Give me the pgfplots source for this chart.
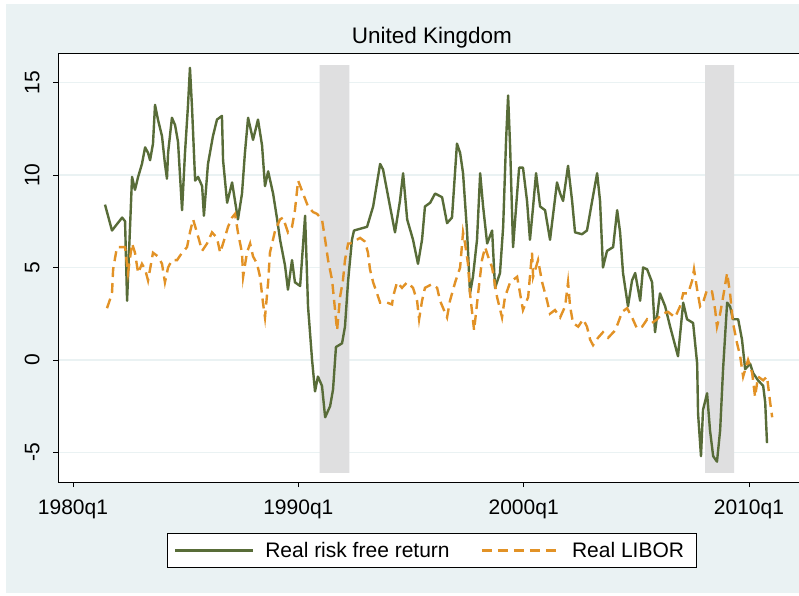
\documentclass[border=0pt]{standalone}
\usepackage{pgfplots}
\pgfplotsset{compat=1.18}
\usepackage{fontspec}
\setmainfont{Liberation Sans}

\definecolor{regionbg}{RGB}{234,242,243}
\definecolor{recession}{RGB}{223,223,224}
\definecolor{rfgreen}{RGB}{88,108,56}
\definecolor{liborange}{RGB}{226,146,38}

\begin{document}
\begin{tikzpicture}[font=\fontsize{21}{25}\selectfont]
\useasboundingbox (0pt,0pt) rectangle (799pt,595pt);
% graph region
\fill[regionbg] (6pt,2pt) rectangle (799pt,591pt);
\begin{axis}[
  at={(58pt,113pt)}, anchor=south west,
  scale only axis, width=741pt, height=429pt,
  xmin=1979.334, xmax=2012.22, ymin=-6.6, ymax=16.6,
  axis x line*=box, axis y line*=left,
  tick pos=left, tick align=outside, major tick length=5pt,
  xtick={1980,1990,2000,2010},
  xticklabels={1980q1,1990q1,2000q1,2010q1},
  xticklabel shift=9pt,
  ytick={-5,0,5,10,15},
  yticklabels={-5,0,5,10,15},
  yticklabel style={rotate=90, anchor=south},
  yticklabel shift=10pt,
  ymajorgrids,
  grid style={regionbg, line width=1.3pt},
  axis line style={black, line width=0.9pt},
  tick style={black, line width=0.8pt},
  axis background/.style={fill=white},
  title={United Kingdom},
  title style={at={(0.5047,1)}, anchor=base, yshift=3pt,
    font=\fontsize{22.5}{26}\selectfont},
  legend columns=2,
  legend style={at={(0.5047,-0.1597)}, anchor=center, draw=black,
    line width=0.8pt, fill=white, inner xsep=6pt, inner ysep=6pt,
    nodes={inner xsep=6pt, inner ysep=3pt},
    /tikz/every odd column/.append style={column sep=5pt},
    /tikz/every even column/.append style={column sep=25pt}},
  legend image code/.code={\draw[#1] (0pt,0pt) -- (78pt,0pt);},
]
% recession bands
\addplot[fill=recession, draw=none, forget plot] coordinates {
  (1990.94,-6.1) (1992.27,-6.1) (1992.27,15.95) (1990.94,15.95)} \closedcycle;
\addplot[fill=recession, draw=none, forget plot] coordinates {
  (2008.05,-6.1) (2009.34,-6.1) (2009.34,15.95) (2008.05,15.95)} \closedcycle;

% real risk free return
\addplot[rfgreen, line width=2.4pt, line join=round] coordinates {
(1981.42,8.4) (1981.73,7.0) (1982.18,7.7) (1982.31,7.5) (1982.40,3.2)
(1982.62,9.9) (1982.75,9.2) (1982.89,9.9) (1983.06,10.6) (1983.20,11.5)
(1983.33,11.2) (1983.42,10.8) (1983.55,11.7) (1983.64,13.8) (1983.77,13.0)
(1983.95,12.1) (1984.08,10.6) (1984.17,9.8) (1984.22,11.2) (1984.39,13.1)
(1984.53,12.7) (1984.66,11.8) (1984.84,8.1) (1984.97,11.2) (1985.10,13.7)
(1985.19,15.8) (1985.28,13.7) (1985.42,9.7) (1985.55,9.9) (1985.73,9.4)
(1985.81,7.8) (1985.99,10.6) (1986.21,12.1) (1986.39,13.0) (1986.61,13.2)
(1986.66,10.8) (1986.84,8.5) (1987.06,9.6) (1987.19,8.6) (1987.32,7.6)
(1987.50,9.0) (1987.63,11.2) (1987.77,13.1) (1987.99,11.9) (1988.21,13.0)
(1988.39,11.6) (1988.52,9.4) (1988.66,10.2) (1988.88,9.0) (1989.06,7.6)
(1989.19,6.5) (1989.41,5.1) (1989.54,3.8) (1989.72,5.4) (1989.85,4.2)
(1990.08,4.0) (1990.30,7.8) (1990.43,2.9) (1990.61,0.0) (1990.74,-1.7)
(1990.87,-0.9) (1991.05,-1.4) (1991.19,-3.1) (1991.41,-2.5) (1991.54,-1.6)
(1991.67,0.7) (1991.94,0.9) (1992.07,1.8) (1992.21,4.3) (1992.38,6.5)
(1992.47,7.0) (1993.05,7.2) (1993.32,8.3) (1993.63,10.6) (1993.76,10.3)
(1994.07,8.3) (1994.29,6.9) (1994.51,8.6) (1994.65,10.1) (1994.83,7.6)
(1995.09,6.5) (1995.31,5.2) (1995.49,6.5) (1995.62,8.3) (1995.85,8.5)
(1996.07,9.0) (1996.38,8.8) (1996.60,7.4) (1996.82,7.7) (1997.04,11.7)
(1997.18,11.2) (1997.31,10.1) (1997.49,6.9) (1997.62,3.6) (1997.75,4.5)
(1997.93,6.5) (1998.07,10.1) (1998.20,8.3) (1998.38,6.3) (1998.60,7.0)
(1998.73,3.9) (1998.95,4.7) (1999.09,7.2) (1999.22,11.9) (1999.31,14.3)
(1999.40,11.5) (1999.53,6.1) (1999.71,9.0) (1999.80,10.4) (1999.97,10.4)
(2000.15,8.6) (2000.28,6.5) (2000.42,8.3) (2000.55,10.1) (2000.73,8.3)
(2000.95,8.1) (2001.17,6.5) (2001.31,7.9) (2001.48,9.6) (2001.62,9.0)
(2001.75,8.6) (2001.97,10.5) (2002.15,8.6) (2002.28,6.9) (2002.59,6.8)
(2002.81,7.0) (2003.04,8.6) (2003.26,10.1) (2003.39,8.6) (2003.52,5.0)
(2003.70,5.9) (2003.97,6.1) (2004.15,8.1) (2004.28,6.9) (2004.41,4.7)
(2004.63,2.9) (2004.81,4.3) (2004.95,4.7) (2005.17,3.2) (2005.30,5.0)
(2005.48,4.9) (2005.70,4.2) (2005.83,1.5) (2006.05,3.6) (2006.28,2.9)
(2006.50,1.8) (2006.85,0.2) (2007.08,3.1) (2007.25,2.2) (2007.52,2.0)
(2007.70,-0.2) (2007.74,-2.9) (2007.87,-5.2) (2007.96,-2.7) (2008.14,-1.8)
(2008.27,-3.8) (2008.41,-5.2) (2008.58,-5.5) (2008.72,-3.8) (2008.85,-0.5)
(2009.03,3.1) (2009.16,2.9) (2009.29,2.2) (2009.52,2.2) (2009.69,1.1)
(2009.83,-0.5) (2010.05,-0.2) (2010.18,-0.7) (2010.40,-1.1) (2010.63,-1.4)
(2010.72,-2.3) (2010.80,-4.5)
};
\addlegendentry{Real risk free return}

% real LIBOR
\addplot[liborange, line width=2.4pt, dash pattern=on 10pt off 6pt] coordinates {
(1981.51,2.8) (1981.73,3.6) (1981.78,4.9) (1981.95,6.1) (1982.31,6.1)
(1982.44,4.7) (1982.62,6.3) (1982.75,5.8) (1982.89,4.7) (1983.06,5.2)
(1983.20,4.9) (1983.33,4.3) (1983.55,5.8) (1983.77,5.6) (1983.95,5.2)
(1984.08,4.2) (1984.22,5.0) (1984.39,5.4) (1984.62,5.4) (1984.84,5.8)
(1985.06,6.1) (1985.19,6.9) (1985.33,7.6) (1985.50,6.9) (1985.73,5.9)
(1985.95,6.3) (1986.17,6.9) (1986.39,6.6) (1986.53,5.8) (1986.66,6.3)
(1986.88,7.2) (1987.06,7.7) (1987.19,7.9) (1987.32,6.9) (1987.50,5.8)
(1987.55,4.5) (1987.72,5.8) (1987.86,6.3) (1987.99,5.6) (1988.17,5.2)
(1988.30,4.5) (1988.43,3.1) (1988.52,2.3) (1988.66,4.2) (1988.74,5.8)
(1988.97,7.0) (1989.19,7.6) (1989.32,7.7) (1989.54,6.9) (1989.72,7.2)
(1989.85,8.1) (1989.99,9.7) (1990.21,9.0) (1990.43,8.3) (1990.65,8.0)
(1990.83,7.9) (1991.05,7.6) (1991.19,6.5) (1991.32,5.4) (1991.50,4.3)
(1991.63,2.7) (1991.72,1.6) (1991.85,3.4) (1991.98,4.3) (1992.07,5.4)
(1992.21,6.3) (1992.30,6.3) (1992.74,6.6) (1992.96,6.4) (1993.09,5.8)
(1993.18,4.9) (1993.32,4.2) (1993.49,3.6) (1993.63,3.1) (1993.94,3.1)
(1994.16,3.0) (1994.20,3.4) (1994.38,4.2) (1994.60,3.9) (1994.83,4.2)
(1995.09,3.9) (1995.27,3.2) (1995.36,2.2) (1995.49,3.2) (1995.62,3.9)
(1995.93,4.1) (1996.16,3.9) (1996.29,3.2) (1996.60,2.3) (1996.73,3.2)
(1996.96,4.2) (1997.18,5.0) (1997.31,6.9) (1997.40,6.3) (1997.53,5.2)
(1997.62,3.6) (1997.80,1.6) (1997.98,3.6) (1998.15,5.4) (1998.29,6.1)
(1998.42,5.6) (1998.60,5.0) (1998.82,3.4) (1999.04,2.3) (1999.17,3.4)
(1999.40,4.2) (1999.71,4.5) (1999.84,3.6) (1999.97,2.7) (2000.20,3.4)
(2000.37,5.8) (2000.42,4.5) (2000.64,5.4) (2000.82,4.2) (2001.04,3.2)
(2001.17,2.5) (2001.39,2.7) (2001.62,2.3) (2001.84,2.9) (2001.97,4.2)
(2002.06,2.9) (2002.19,2.0) (2002.42,1.8) (2002.64,2.2) (2002.81,1.8)
(2002.95,1.1) (2003.08,0.8) (2003.30,1.2) (2003.52,1.5) (2003.75,1.2)
(2004.06,1.6) (2004.19,2.0) (2004.37,2.6) (2004.59,2.8) (2004.81,2.3)
(2005.03,1.7) (2005.26,1.8) (2005.48,2.2) (2005.70,2.0) (2005.92,2.2)
(2006.14,2.5) (2006.41,2.6) (2006.72,2.3) (2006.94,2.9) (2007.08,3.6)
(2007.30,3.6) (2007.48,4.3) (2007.56,4.9) (2007.70,3.8) (2007.83,2.9)
(2007.96,3.1) (2008.14,3.8) (2008.36,3.7) (2008.50,2.7) (2008.58,1.8)
(2008.72,2.5) (2008.85,3.4) (2009.03,4.7) (2009.16,3.6) (2009.29,2.0)
(2009.47,0.9) (2009.61,0.2) (2009.74,-0.9) (2009.96,0.0) (2010.14,-0.7)
(2010.27,-2.0) (2010.40,-0.9) (2010.63,-1.1) (2010.80,-0.9) (2010.94,-2.3)
(2011.03,-3.1)
};
\addlegendentry{Real LIBOR}
\end{axis}
\end{tikzpicture}
\end{document}
